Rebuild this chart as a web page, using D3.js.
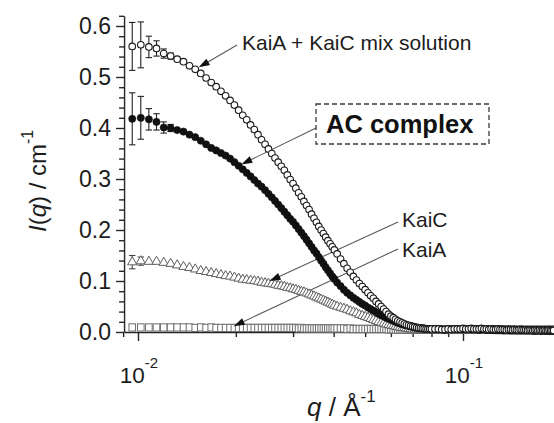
<!DOCTYPE html>
<html>
<head>
<meta charset="utf-8">
<script src="https://cdn.jsdelivr.net/npm/d3@7"></script>
<style>
  html, body { margin: 0; padding: 0; background: #fff; }
  svg { display: block; font-family: "Liberation Sans", Arial, Helvetica, sans-serif; }
</style>
</head>
<body>
<svg id="chart" width="554" height="423"></svg>
<script>
// Scattering vector grid q (Å^-1), shared by all four curves
const q = [
  0.0096, 0.0102, 0.0108, 0.0114, 0.0120, 0.0126, 0.0132, 0.0138, 0.0144, 0.0150,
  0.0156, 0.0162, 0.0168, 0.0174, 0.0180, 0.0186, 0.0192, 0.0198, 0.0204, 0.0210,
  0.0216, 0.0222, 0.0228, 0.0234, 0.0240, 0.0246, 0.0252, 0.0258, 0.0264, 0.0270,
  0.0276, 0.0282, 0.0288, 0.0294, 0.0300, 0.0306, 0.0312, 0.0318, 0.0324, 0.0330,
  0.0336, 0.0342, 0.0348, 0.0354, 0.0360, 0.0366, 0.0372, 0.0378, 0.0384, 0.0390,
  0.0396, 0.0402,
  0.041, 0.042, 0.043, 0.044, 0.045, 0.046, 0.047, 0.048, 0.049, 0.050,
  0.051, 0.052, 0.053, 0.054, 0.055, 0.056, 0.057, 0.058, 0.059, 0.060,
  0.061, 0.062, 0.063, 0.064, 0.065, 0.066, 0.067, 0.068, 0.069, 0.070,
  0.071, 0.072, 0.073, 0.074, 0.075, 0.076, 0.077, 0.078, 0.079, 0.080,
  0.082, 0.084, 0.086, 0.088, 0.090, 0.092, 0.094, 0.096, 0.098, 0.100,
  0.102, 0.104, 0.106, 0.108, 0.110, 0.112, 0.114, 0.116, 0.118, 0.120,
  0.122, 0.124, 0.126, 0.128, 0.130, 0.132, 0.134, 0.136, 0.138, 0.140,
  0.142, 0.144, 0.146, 0.148, 0.150, 0.152, 0.154, 0.156, 0.158, 0.160,
  0.162, 0.164, 0.166, 0.168, 0.170, 0.172, 0.174, 0.176, 0.178, 0.180,
  0.182, 0.184, 0.186, 0.188, 0.190
];

// I(q) in cm^-1 for each sample
const mixSolution = [
  0.560, 0.563, 0.559, 0.556, 0.546, 0.541, 0.535, 0.530, 0.522, 0.515,
  0.507, 0.498, 0.489, 0.481, 0.472, 0.463, 0.454, 0.445, 0.435, 0.425,
  0.416, 0.406, 0.397, 0.387, 0.377, 0.368, 0.359, 0.350, 0.341, 0.333,
  0.325, 0.317, 0.308, 0.299, 0.291, 0.282, 0.273, 0.265, 0.256, 0.248,
  0.240, 0.231, 0.223, 0.215, 0.207, 0.200, 0.193, 0.186, 0.179, 0.173,
  0.167, 0.161,
  0.153, 0.143, 0.134, 0.125, 0.117, 0.109, 0.102, 0.095, 0.089, 0.083,
  0.077, 0.071, 0.066, 0.060, 0.055, 0.050, 0.045, 0.040, 0.035, 0.031,
  0.028, 0.025, 0.022, 0.020, 0.018, 0.016, 0.014, 0.013, 0.012, 0.011,
  0.010, 0.009, 0.008, 0.008, 0.007, 0.007, 0.006, 0.006, 0.006, 0.006,
  0.006, 0.006, 0.005, 0.005, 0.006, 0.005, 0.006, 0.006, 0.006, 0.007,
  0.006, 0.006, 0.007, 0.006, 0.006, 0.006, 0.007, 0.006, 0.006, 0.005,
  0.006, 0.005, 0.005, 0.006, 0.005, 0.005, 0.005, 0.004, 0.005, 0.005,
  0.004, 0.005, 0.004, 0.004, 0.005, 0.004, 0.004, 0.004, 0.003, 0.004,
  0.004, 0.003, 0.004, 0.004, 0.003, 0.004, 0.003, 0.003, 0.004, 0.003,
  0.003, 0.004, 0.003, 0.003, 0.003
];

const acComplex = [
  0.418, 0.420, 0.417, 0.412, 0.401, 0.400, 0.396, 0.393, 0.387, 0.382,
  0.375, 0.368, 0.361, 0.356, 0.351, 0.346, 0.340, 0.333, 0.326, 0.319,
  0.312, 0.305, 0.298, 0.291, 0.285, 0.278, 0.271, 0.264, 0.257, 0.250,
  0.243, 0.236, 0.229, 0.222, 0.216, 0.209, 0.202, 0.195, 0.188, 0.181,
  0.174, 0.167, 0.160, 0.154, 0.147, 0.140, 0.134, 0.127, 0.121, 0.115,
  0.109, 0.104,
  0.097, 0.090, 0.083, 0.077, 0.072, 0.067, 0.063, 0.059, 0.055, 0.052,
  0.048, 0.045, 0.042, 0.039, 0.036, 0.033, 0.031, 0.028, 0.026, 0.024,
  0.022, 0.020, 0.018, 0.017, 0.015, 0.014, 0.013, 0.012, 0.011, 0.010,
  0.009, 0.008, 0.008, 0.007, 0.007, 0.006, 0.006, 0.006, 0.005, 0.005,
  0.005, 0.005, 0.005, 0.004, 0.005, 0.005, 0.005, 0.005, 0.005, 0.005,
  0.005, 0.005, 0.005, 0.005, 0.005, 0.004, 0.005, 0.005, 0.004, 0.004,
  0.004, 0.004, 0.004, 0.004, 0.004, 0.004, 0.003, 0.004, 0.004, 0.003,
  0.003, 0.004, 0.003, 0.003, 0.003, 0.003, 0.003, 0.003, 0.003, 0.003,
  0.003, 0.003, 0.002, 0.003, 0.003, 0.003, 0.002, 0.003, 0.003, 0.002,
  0.003, 0.002, 0.002, 0.003, 0.002
];

const kaiC = [
  0.137, 0.139, 0.138, 0.138, 0.136, 0.134, 0.131, 0.128, 0.126, 0.123,
  0.120, 0.118, 0.116, 0.114, 0.112, 0.110, 0.109, 0.107, 0.105, 0.103,
  0.102, 0.101, 0.100, 0.099, 0.097, 0.096, 0.095, 0.094, 0.093, 0.091,
  0.090, 0.089, 0.087, 0.086, 0.084, 0.083, 0.081, 0.079, 0.078, 0.076,
  0.074, 0.072, 0.070, 0.068, 0.066, 0.064, 0.062, 0.060, 0.058, 0.056,
  0.054, 0.052,
  0.050, 0.048, 0.046, 0.044, 0.041, 0.039, 0.037, 0.034, 0.032, 0.030,
  0.028, 0.026, 0.024, 0.022, 0.020, 0.018, 0.017, 0.015, 0.014, 0.013,
  0.012, 0.011, 0.010, 0.009, 0.008, 0.008, 0.007, 0.006, 0.006, 0.005,
  0.005, 0.005, 0.004, 0.004, 0.004, 0.004, 0.003, 0.003, 0.003, 0.003,
  0.003, 0.003, 0.003, 0.003, 0.003, 0.003, 0.003, 0.003, 0.003, 0.003,
  0.003, 0.003, 0.003, 0.003, 0.003, 0.003, 0.003, 0.003, 0.003, 0.003,
  0.003, 0.003, 0.003, 0.003, 0.002, 0.003, 0.003, 0.002, 0.003, 0.002,
  0.002, 0.003, 0.002, 0.002, 0.002, 0.003, 0.002, 0.002, 0.002, 0.002,
  0.002, 0.002, 0.002, 0.002, 0.002, 0.002, 0.002, 0.002, 0.002, 0.002,
  0.002, 0.002, 0.002, 0.002, 0.002
];

const kaiA = [
  0.009, 0.009, 0.009, 0.009, 0.009, 0.009, 0.009, 0.009, 0.009, 0.008,
  0.009, 0.008, 0.009, 0.008, 0.008, 0.008, 0.008, 0.008, 0.008, 0.008,
  0.008, 0.008, 0.008, 0.008, 0.008, 0.008, 0.008, 0.008, 0.008, 0.008,
  0.008, 0.008, 0.008, 0.008, 0.008, 0.008, 0.007, 0.008, 0.007, 0.007,
  0.007, 0.007, 0.007, 0.007, 0.007, 0.007, 0.007, 0.007, 0.007, 0.007,
  0.007, 0.007,
  0.007, 0.007, 0.007, 0.006, 0.007, 0.006, 0.006, 0.006, 0.006, 0.006,
  0.006, 0.006, 0.006, 0.006, 0.006, 0.006, 0.006, 0.006, 0.005, 0.006,
  0.005, 0.005, 0.005, 0.005, 0.005, 0.005, 0.005, 0.005, 0.005, 0.005,
  0.005, 0.005, 0.005, 0.005, 0.005, 0.005, 0.005, 0.005, 0.005, 0.005,
  0.005, 0.005, 0.005, 0.005, 0.005, 0.005, 0.005, 0.005, 0.005, 0.005,
  0.005, 0.005, 0.005, 0.005, 0.005, 0.005, 0.005, 0.005, 0.005, 0.005,
  0.005, 0.005, 0.004, 0.005, 0.004, 0.005, 0.004, 0.004, 0.004, 0.004,
  0.004, 0.004, 0.004, 0.004, 0.004, 0.004, 0.004, 0.004, 0.004, 0.004,
  0.004, 0.004, 0.004, 0.004, 0.004, 0.004, 0.004, 0.004, 0.004, 0.004,
  0.004, 0.004, 0.004, 0.004, 0.004
];

// Standard deviations on the lowest-q points (cm^-1)
const mixErr = [0.047, 0.045, 0.021, 0.015, 0.009, 0.006];
const acErr = [0.051, 0.042, 0.021, 0.016, 0.011, 0.007];
const kaiCErr = [0.013, 0.008];

// Axis ticks
const yMajorTicks = [0.0, 0.1, 0.2, 0.3, 0.4, 0.5, 0.6];
const yMinorTicks = [0.02, 0.04, 0.06, 0.08, 0.12, 0.14, 0.16, 0.18, 0.22, 0.24, 0.26, 0.28,
                     0.32, 0.34, 0.36, 0.38, 0.42, 0.44, 0.46, 0.48, 0.52, 0.54, 0.56, 0.58, 0.62];
const xMajorTicks = [0.01, 0.1];
const xMajorExponents = ["-2", "-1"];
const xMinorTicks = [0.009, 0.02, 0.03, 0.04, 0.05, 0.06, 0.07, 0.08, 0.09, 0.2];

// Annotation texts
const labelMix = "KaiA + KaiC mix solution";
const labelAC = "AC complex";
const labelKaiC = "KaiC";
const labelKaiA = "KaiA";

// ---------------------------------------------------------------------------
const svg = d3.select("#chart");
const INK = "#1c1c1c";

// log q axis: 325 px per decade, 10^-2 at x = 138
const X_DECADE = 325, X_AT_001 = 138;
const qMin = 0.00906, qMax = 0.2;
const x = d3.scaleLog()
  .domain([qMin, qMax])
  .range([X_AT_001 + X_DECADE * Math.log10(qMin / 0.01), X_AT_001 + X_DECADE * Math.log10(qMax / 0.01)]);
const y = d3.scaleLinear().domain([0, 0.62]).range([332, 332 - 0.62 * 510]);

const x0 = x.range()[0];
const y0 = y(0);

// ---- axes ----
const yAxisMajor = svg.append("g")
  .attr("transform", `translate(${x0},0)`)
  .call(d3.axisLeft(y).tickValues(yMajorTicks).tickFormat(d3.format(".1f"))
        .tickSize(8).tickSizeOuter(0).tickPadding(5));
const yAxisMinor = svg.append("g")
  .attr("transform", `translate(${x0},0)`)
  .call(d3.axisLeft(y).tickValues(yMinorTicks).tickFormat("").tickSize(5).tickSizeOuter(0));
yAxisMinor.select(".domain").remove();

const xAxisMajor = svg.append("g")
  .attr("transform", `translate(0,${y0})`)
  .call(d3.axisBottom(x).tickValues(xMajorTicks).tickFormat("").tickSize(9).tickSizeOuter(0));
const xAxisMinor = svg.append("g")
  .attr("transform", `translate(0,${y0})`)
  .call(d3.axisBottom(x).tickValues(xMinorTicks).tickFormat("").tickSize(5).tickSizeOuter(0));
xAxisMinor.select(".domain").remove();

svg.selectAll(".domain, .tick line").attr("stroke", "#262626").attr("stroke-width", 1.4);
yAxisMajor.selectAll(".tick text")
  .attr("font-family", "Liberation Sans, Arial, sans-serif")
  .attr("font-size", 23).attr("fill", INK);

// decade labels 10^n
xMajorTicks.forEach((v, i) => {
  const t = svg.append("text")
    .attr("x", x(v) + 1).attr("y", 383)
    .attr("text-anchor", "middle")
    .attr("font-size", 22.5).attr("fill", INK);
  t.append("tspan").text("10");
  t.append("tspan").attr("font-size", 15).attr("dy", -15).text(xMajorExponents[i]);
});

// axis titles
const xTitle = svg.append("text")
  .attr("x", 307).attr("y", 416)
  .attr("font-size", 26).attr("fill", INK);
xTitle.append("tspan").attr("font-style", "italic").text("q");
xTitle.append("tspan").text(" / Å");
xTitle.append("tspan").attr("font-size", 17).attr("dy", -14).text("-1");

const yTitle = svg.append("text")
  .attr("transform", "translate(46,232) rotate(-90)")
  .attr("font-size", 24).attr("fill", INK);
yTitle.append("tspan").attr("font-style", "italic").text("I");
yTitle.append("tspan").text("(");
yTitle.append("tspan").attr("font-style", "italic").text("q");
yTitle.append("tspan").text(") / cm");
yTitle.append("tspan").attr("font-size", 16).attr("dy", -13).text("-1");

// ---- annotation leader lines (under the markers) ----
function tipFrom(series, idx, start, offset) {
  const px = x(q[idx]), py = y(series[idx]);
  const dx = start[0] - px, dy = start[1] - py, len = Math.hypot(dx, dy);
  return [px + dx / len * offset, py + dy / len * offset];
}
const arrows = [
  { start: [237, 45], tip: tipFrom(mixSolution, 9, [237, 45], 4) },
  { start: [316, 128], tip: tipFrom(acComplex, 18, [316, 128], 3) },
  { start: [398, 222], tip: tipFrom(kaiC, 25, [398, 222], 5) },
  { start: [398, 249], tip: tipFrom(kaiA, 16, [398, 249], 4) }
];
const HEAD_LEN = 11, HEAD_HALF = 3.6;
arrows.forEach(a => {
  const [sx, sy] = a.start, [tx, ty] = a.tip;
  const len = Math.hypot(sx - tx, sy - ty);
  a.ux = (sx - tx) / len; a.uy = (sy - ty) / len;
  svg.append("line")
    .attr("x1", sx).attr("y1", sy)
    .attr("x2", tx + a.ux * HEAD_LEN * 0.8).attr("y2", ty + a.uy * HEAD_LEN * 0.8)
    .attr("stroke", "#5a5a5a").attr("stroke-width", 1.1);
});

// ---- error bars ----
function errorBars(series, errs, color) {
  const g = svg.append("g").attr("stroke", color).attr("stroke-width", 1.1);
  errs.forEach((e, i) => {
    const cx = x(q[i]);
    const yt = y(series[i] + e), yb = y(series[i] - e);
    g.append("line").attr("x1", cx).attr("x2", cx).attr("y1", yt).attr("y2", yb);
    g.append("line").attr("x1", cx - 3.2).attr("x2", cx + 3.2).attr("y1", yt).attr("y2", yt);
    g.append("line").attr("x1", cx - 3.2).attr("x2", cx + 3.2).attr("y1", yb).attr("y2", yb);
  });
}
errorBars(mixSolution, mixErr, "#222");
errorBars(acComplex, acErr, "#222");
errorBars(kaiC, kaiCErr, "#444");

// ---- data markers ----
// KaiA: open squares
svg.append("g").selectAll("rect")
  .data(q.map((v, i) => [v, kaiA[i]]))
  .join("rect")
  .attr("x", d => x(d[0]) - 3.3).attr("y", d => y(d[1]) - 3.6)
  .attr("width", 6.6).attr("height", 7.2)
  .attr("fill", "#fff").attr("stroke", "#6e6e6e").attr("stroke-width", 1);

// KaiC: open triangles
const tri = d3.symbol(d3.symbolTriangle, 38);
svg.append("g").selectAll("path")
  .data(q.map((v, i) => [v, kaiC[i]]))
  .join("path")
  .attr("d", tri)
  .attr("transform", d => `translate(${x(d[0])},${y(d[1])})`)
  .attr("fill", "#fff").attr("stroke", "#5e5e5e").attr("stroke-width", 1);

// AC complex: filled circles
svg.append("g").selectAll("circle")
  .data(q.map((v, i) => [v, acComplex[i]]))
  .join("circle")
  .attr("cx", d => x(d[0])).attr("cy", d => y(d[1])).attr("r", 3.6)
  .attr("fill", "#111").attr("stroke", "#111").attr("stroke-width", 0.6);

// mix solution: open circles
svg.append("g").selectAll("circle")
  .data(q.map((v, i) => [v, mixSolution[i]]))
  .join("circle")
  .attr("cx", d => x(d[0])).attr("cy", d => y(d[1])).attr("r", 3.3)
  .attr("fill", "#fff").attr("stroke", "#1a1a1a").attr("stroke-width", 1.1);

// ---- arrowheads (over the markers) ----
arrows.forEach(a => {
  const [tx, ty] = a.tip;
  const bx = tx + a.ux * HEAD_LEN, by = ty + a.uy * HEAD_LEN;
  const nx = -a.uy, ny = a.ux;
  svg.append("path")
    .attr("d", `M${tx},${ty}L${bx + nx * HEAD_HALF},${by + ny * HEAD_HALF}L${bx - nx * HEAD_HALF},${by - ny * HEAD_HALF}Z`)
    .attr("fill", "#111");
});

// ---- annotation texts ----
svg.append("text").attr("x", 242).attr("y", 49.5)
  .attr("font-size", 21).attr("fill", INK).text(labelMix);

svg.append("rect")
  .attr("x", 316).attr("y", 104).attr("width", 173).attr("height", 40)
  .attr("fill", "none").attr("stroke", "#3a3a3a").attr("stroke-width", 1.3)
  .attr("stroke-dasharray", "5,3");
svg.append("text").attr("x", 326).attr("y", 133.3)
  .attr("font-size", 25.5).attr("font-weight", "bold").attr("fill", "#111").text(labelAC);

svg.append("text").attr("x", 402).attr("y", 226.7)
  .attr("font-size", 21).attr("fill", INK).text(labelKaiC);
svg.append("text").attr("x", 402).attr("y", 257.3)
  .attr("font-size", 21).attr("fill", INK).text(labelKaiA);
</script>
</body>
</html>
